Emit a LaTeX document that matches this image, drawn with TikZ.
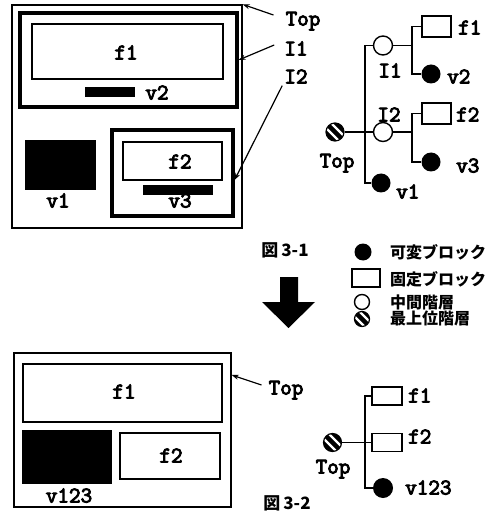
\documentclass[tikz,border=0pt]{standalone}
\usepackage{fontspec}
\newfontfamily\cjk{Noto Sans CJK JP}
\newfontfamily\cour{Latin Modern Mono}[FakeBold=4]
\usetikzlibrary{arrows.meta,calc}
\begin{document}
\begin{tikzpicture}[x=1pt,y=-1pt,
  thinbox/.style={draw, line width=1.3, inner sep=0pt},
  thickbox/.style={draw, line width=3.2, inner sep=0pt},
  blk/.style={fill=black, inner sep=0pt},
  lab/.style={font=\cour\fontsize{22.5}{22.5}\selectfont, inner sep=0pt, text height=13pt, text depth=0pt},
  jlab/.style={font=\cjk\bfseries\fontsize{16}{16}\selectfont, inner sep=0pt, anchor=west},
  figlab/.style={font=\cjk\bfseries\fontsize{17}{17}\selectfont, inner sep=0pt},
  vn/.style={circle, fill=black, minimum size=19pt, inner sep=0pt},
  midn/.style={circle, draw, fill=white, line width=1.4, minimum size=19pt, inner sep=0pt},
  fixb/.style={draw, line width=1.4, minimum width=29pt, minimum height=21pt, inner sep=0pt},
  hatchn/.style={circle, draw, line width=1.2, fill=black, minimum size=18pt, inner sep=0pt,
    path picture={
      \draw[white, line width=2.2] ([shift={(-7,-12)}]path picture bounding box.center) -- ++(19,19);
      \draw[white, line width=2.2] ([shift={(-12,-7)}]path picture bounding box.center) -- ++(19,19);
    }},
  tline/.style={line width=1.3},
  lead/.style={line width=1.2, -{Stealth[length=7pt,width=5pt]}}
]
\fill[white] (0,0) rectangle (497,518);
\useasboundingbox (0,0) rectangle (497,518);

% ---------- upper left layout ----------
\node[thinbox, minimum width=230pt, minimum height=223pt] (top1) at (127,116.5) {};
\node[thickbox, minimum width=217pt, minimum height=94pt] (i1box) at (128.5,60) {};
\node[thinbox, minimum width=191pt, minimum height=55pt] (f1box) at (127.5,51.5) {};
\node[lab] (f1t) at (126,53) {f1};
\node[blk, minimum width=50pt, minimum height=10pt] (v2bar) at (110,92) {};
\node[lab] (v2t) at (157,93) {v2};
\node[blk, minimum width=71pt, minimum height=50pt] (v1blk) at (60.5,165) {};
\node[lab] (v1t) at (58,201) {v1};
\node[thickbox, minimum width=121pt, minimum height=86pt] (i2box) at (172.5,173) {};
\node[thinbox, minimum width=99pt, minimum height=38pt] (f2box) at (172.5,161) {};
\node[lab] (f2t) at (180,162) {f2};
\node[blk, minimum width=70pt, minimum height=10pt] (v3bar) at (178,190) {};
\node[lab] (v3t) at (180,201) {v3};

\node[lab] (lTop) at (303,19) {Top};
\node[lab] (lI1) at (296,49) {I1};
\node[lab] (lI2) at (296,77) {I2};
\draw[lead] ([shift={(-12,-4)}]lTop.west) -- (top1.north east);
\draw[lead] ([shift={(-10,-4)}]lI1.west) -- (i1box.east);
\draw[lead] ([shift={(-2,2)}]lI2.south west) -- ([shift={(0,7)}]i2box.east);

% ---------- upper tree ----------
\node[hatchn] (T1) at (335,132) {};
\node[midn] (I1n) at (383,45.5) {};
\node[midn] (I2n) at (383,132) {};
\node[vn] (V1n) at (381,183) {};
\node[fixb] (F1n) at (436.5,26.5) {};
\node[vn] (V2n) at (431,74) {};
\node[fixb] (F2n) at (436.5,113.5) {};
\node[vn] (V3n) at (431,162) {};
\coordinate (tr1) at (365,0);
\coordinate (sb1) at (412,0);
\draw[tline] (I1n.west) -- (I1n.west -| tr1) -- (V1n.west -| tr1) -- (V1n.west);
\draw[tline] (T1.east) -- (I2n.west);
\draw[tline] (I1n.east) -- (I1n.east -| sb1);
\draw[tline] (F1n.west) -- (F1n.west -| sb1) -- (V2n.west -| sb1) -- (V2n.west);
\draw[tline] (I2n.east) -- (I2n.east -| sb1);
\draw[tline] (F2n.west) -- (F2n.west -| sb1) -- (V3n.west -| sb1) -- (V3n.west);
\node[lab, anchor=west] (tf1) at (458,28) {f1};
\node[lab, anchor=west] (tv2) at (447,77) {v2};
\node[lab, anchor=west] (tf2) at (456,115) {f2};
\node[lab, anchor=west] (tv3) at (456,166) {v3};
\node[lab, anchor=west] (tv1) at (396,192) {v1};
\node[lab] (tI1) at (390,71) {I1};
\node[lab] (tI2) at (389,115) {I2};
\node[lab] (tTop) at (337,161) {Top};

% ---------- legend ----------
\node[figlab] (fig1) at (285,250) {図\hspace{3pt}3-1};
\node[vn, minimum size=17pt] (Lv) at (363,252) {};
\node[draw, line width=1.4, minimum width=28pt, minimum height=18pt, inner sep=0pt] (Lf) at (366,278) {};
\node[midn, minimum size=15pt] (Li) at (362,302) {};
\node[hatchn, minimum size=15pt] (Lt) at (362,319) {};
\node[jlab] (Lvt) at (390,252) {可変ブロック};
\node[jlab] (Lft) at (390,279) {固定ブロック};
\node[jlab] (Lit) at (390,302) {中間階層};
\node[jlab] (Ltt) at (390,318) {最上位階層};

% big arrow
\fill (280,277) -- (298,277) -- (298,302) -- (315,302) -- (288.5,328) -- (262,302) -- (280,302) -- cycle;

% ---------- lower left layout ----------
\node[thinbox, minimum width=217pt, minimum height=154pt] (top2) at (122.5,430) {};
\node[thinbox, minimum width=199pt, minimum height=58pt] (f1b) at (122.5,393) {};
\node[lab] (f1bt) at (124,392) {f1};
\node[blk, minimum width=90pt, minimum height=54pt] (v123blk) at (67,457) {};
\node[lab] (v123t) at (69,496) {v123};
\node[thinbox, minimum width=100pt, minimum height=46pt] (f2b) at (170,456) {};
\node[lab] (f2bt) at (171,456) {f2};
\node[lab] (lTopb) at (286,388) {Top};
\draw[lead] ([shift={(-7,-3)}]lTopb.west) -- ([shift={(0,-55)}]top2.east);
\node[figlab] (fig2) at (287,503) {図\hspace{3pt}3-2};

% ---------- lower tree ----------
\node[hatchn] (T2) at (332.5,442.5) {};
\node[fixb, minimum width=30pt, minimum height=18pt] (F1b) at (387,396) {};
\node[fixb, minimum width=30pt, minimum height=18pt] (F2b) at (387,442.5) {};
\node[vn, minimum size=20pt] (V123) at (383,488) {};
\coordinate (tr2) at (365,0);
\draw[tline] (F1b.west) -- (F1b.west -| tr2) -- (V123.west -| tr2) -- (V123.west);
\draw[tline] (T2.east) -- (F2b.west);
\node[lab, anchor=west] (tf1b) at (408,396) {f1};
\node[lab, anchor=west] (tf2b) at (408,437) {f2};
\node[lab, anchor=west] (tv123) at (405,488) {v123};
\node[lab] (tTopb) at (333,467) {Top};
\end{tikzpicture}
\end{document}
